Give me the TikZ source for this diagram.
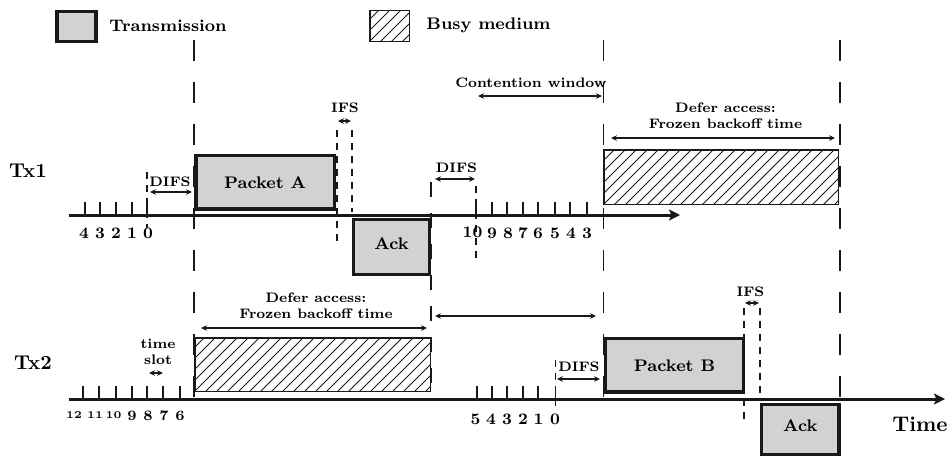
\documentclass[tikz,border=0pt]{standalone}
\usetikzlibrary{arrows.meta}
\definecolor{boxgray}{RGB}{209,210,212}
\definecolor{ink}{RGB}{25,25,25}
\begin{document}
\begin{tikzpicture}[x=0.5pt,y=-0.5pt,
  lbl/.style={font=\fontsize{8.4}{10}\selectfont\bfseries, inner sep=0pt},
  sml/.style={font=\fontsize{6.9}{8}\selectfont\bfseries, inner sep=0pt, align=center},
  big/.style={font=\fontsize{10}{12}\selectfont\bfseries, inner sep=0pt},
  dig/.style={font=\fontsize{8}{9}\selectfont\bfseries, inner sep=0pt},
  middig/.style={font=\fontsize{7.2}{8}\selectfont\bfseries, inner sep=0pt},
  tinydig/.style={font=\fontsize{5.2}{6}\selectfont\bfseries, inner sep=0pt},
  tbox/.style={draw=ink, line width=1.7pt, fill=boxgray, inner sep=0pt, lbl},
  hbox/.style={draw=ink, line width=0.75pt, inner sep=0pt,
    path picture={\foreach \k in {-6,...,22}{\draw[line width=0.45pt, draw=ink] ([xshift=\k*5.5pt]path picture bounding box.south west) -- ++(30pt,30pt);}}},
  axisline/.style={line width=1.5pt, draw=ink, -{Stealth[length=5.5pt,width=5.5pt,inset=1.2pt]}},
  tick/.style={line width=0.8pt, draw=ink},
  span/.style={line width=0.6pt, draw=ink, {Stealth[length=3pt,width=2.8pt]}-{Stealth[length=3pt,width=2.8pt]}},
  dashL/.style={line width=0.9pt, draw=ink, dash pattern=on 10.5pt off 10.5pt},
  dashM/.style={line width=0.9pt, draw=ink, dash pattern=on 7.5pt off 8pt},
  dashS/.style={line width=0.75pt, draw=ink, dash pattern=on 3.5pt off 3pt},
]
\useasboundingbox (0,0) rectangle (951,457);

% legend
\node[tbox, minimum width=19.35pt, minimum height=14.95pt] (legT) at (76.5,26.25) {};
\node[lbl, anchor=west] (legTtxt) at (109,25.5) {Transmission};
\node[hbox, minimum width=19.75pt, minimum height=15.45pt] (legB) at (389.5,25.8) {};
\node[lbl, anchor=west] (legBtxt) at (426,25.5) {Busy medium};

% row labels
\node[big] (tx1) at (28,171) {Tx1};
\node[big] (tx2) at (33,363) {Tx2};
\node[font=\fontsize{10.6}{12}\selectfont\bfseries, inner sep=0pt] (time) at (920,424.5) {Time};

% long dashed guide lines
\draw[dashL] (194,40) -- (194,399);
\draw[dashL] (603.5,40) -- (603.5,399);
\draw[dashL] (840,40) -- (840,403);
\draw[dashM] (431,182) -- (431,392);

% short dashed markers
\draw[dashS] (337,130) -- (337,247);
\draw[dashS] (352,130) -- (352,212);
\draw[dashS] (147,172) -- (147,228);
\draw[dashS] (476,186) -- (476,264);
\draw[dashS] (555.5,360) -- (555.5,409);
\draw[dashS] (744,308) -- (744,422);
\draw[dashS] (760,308) -- (760,401);

% busy medium boxes
\node[hbox, minimum width=117.25pt, minimum height=27.25pt] (busy1) at (721,177) {};
\node[hbox, minimum width=117.75pt, minimum height=26.75pt] (busy2) at (312.5,364.5) {};

% transmissions
\node[tbox, minimum width=69.15pt, minimum height=26.65pt] (pa) at (265.15,182.35) {Packet A};
\node[tbox, minimum width=37.8pt, minimum height=27.3pt] (ack1) at (391.5,247) {\raisebox{3.5pt}{Ack}};
\node[tbox, minimum width=68.8pt, minimum height=26.6pt] (pb) at (674.5,365.3) {Packet B};
\node[tbox, minimum width=38.65pt, minimum height=25pt] (ack2) at (800.35,429.35) {\raisebox{3.5pt}{Ack}};

% axes
\draw[axisline] (68.5,215) -- (680,215);
\draw[axisline] (68.5,399) -- (945,399);

% ticks Tx1
\foreach \x in {85,100,116,132,147,476,492,507,523,538,555,570,587}
  \draw[tick] (\x,202) -- (\x,215);
% ticks Tx2
\foreach \x in {83,99,116,132,147,163,180,477,492,507,523,538,555.5}
  \draw[tick] (\x,386) -- (\x,399);

% tick labels Tx1
\foreach \x/\t in {84/4,100/3,116/2,132/1,148/0,492/9,508/8,523/7,538/6,555/5,571/4,587/3}
  \node[dig] at (\x,233) {\t};
\node[dig] (ten1) at (472.5,232) {10};
% tick labels Tx2
\foreach \x/\t in {74/12,95/11,113.5/10}
  \node[tinydig] at (\x,415.5) {\t};
\foreach \x/\t in {132/9,148/8,164/7,180/6}
  \node[middig] at (\x,416) {\t};
\foreach \x/\t in {475.5/5,491/4,507/3,523/2,538.5/1,555/0}
  \node[dig] at (\x,419.5) {\t};

% spans and their labels
\draw[span] (150,192) -- (192,192);
\node[sml] (difs1) at (170,181.7) {DIFS};
\draw[span] (338,121) -- (351,121);
\node[sml] (ifs1) at (345,107.5) {IFS};
\draw[span] (435,179) -- (475,179);
\node[sml] (difs2) at (456.5,168) {DIFS};
\draw[span] (478,96) -- (602,96);
\node[sml] (cw) at (531,83) {Contention window};
\draw[span] (611,138) -- (835,138);
\node[sml] (defer1) at (725.5,116) {Defer access:\\Frozen backoff time};
\draw[span] (201,328) -- (427,328);
\node[sml] (defer2) at (316,305.5) {Defer access:\\Frozen backoff time};
\draw[span] (435,316) -- (596,316);
\draw[span] (149,373) -- (163,373);
\node[sml] (slot) at (158,352) {time\\slot};
\draw[span] (557,379) -- (600,379);
\node[sml] (difs3) at (579,366.5) {DIFS};
\draw[span] (745,303) -- (759,303);
\node[sml] (ifs2) at (750.5,292) {IFS};
\end{tikzpicture}
\end{document}
